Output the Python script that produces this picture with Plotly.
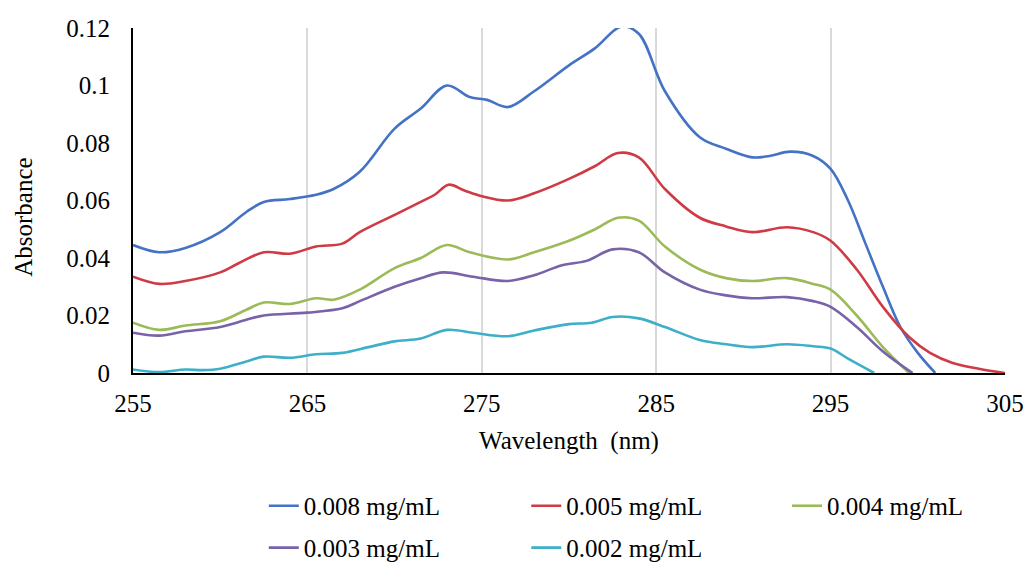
import plotly.graph_objects as go

# ---- data ----
wl_008 = [255, 256.5, 258, 260, 261.5, 262.5, 264, 265.5, 266.5, 268, 270, 271.5, 273, 274.3, 275.3, 276.5, 278, 280, 281.5, 283, 284, 285.5, 287.5, 289, 290.5, 291.5, 292.7, 294, 295, 296, 297, 298, 299, 300, 301]
ab_008 = [0.0445, 0.042, 0.0435, 0.049, 0.056, 0.0595, 0.0605, 0.062, 0.064, 0.070, 0.085, 0.092, 0.100, 0.096, 0.095, 0.0925, 0.098, 0.107, 0.113, 0.1205, 0.118, 0.098, 0.082, 0.078, 0.075, 0.0755, 0.077, 0.0755, 0.071, 0.060, 0.045, 0.030, 0.016, 0.007, 0.0]

wl_005 = [255, 256.5, 258, 260, 261, 262.5, 264, 265.5, 267, 268, 270, 271.5, 272.3, 273.1, 274, 275, 276.5, 278, 280, 281.5, 282.8, 284, 285.5, 287.5, 289, 290.5, 292.5, 294, 295, 296.5, 298, 299.5, 300.7, 302, 303.5, 305]
ab_005 = [0.0335, 0.031, 0.032, 0.035, 0.038, 0.042, 0.0415, 0.044, 0.045, 0.049, 0.055, 0.0595, 0.062, 0.0655, 0.0635, 0.0615, 0.060, 0.0625, 0.0675, 0.072, 0.0765, 0.075, 0.064, 0.054, 0.051, 0.049, 0.0507, 0.049, 0.046, 0.036, 0.023, 0.0125, 0.007, 0.0035, 0.0015, 0.0]

wl_004 = [255, 256.5, 258, 260, 261.5, 262.5, 264, 265.5, 266.5, 268, 270, 271.5, 273, 274.3, 276.5, 278, 280, 281.5, 282.8, 284, 285.5, 287.5, 289, 290.5, 292.5, 294, 295, 296.5, 298, 299.5]
ab_004 = [0.0175, 0.015, 0.0165, 0.018, 0.022, 0.0245, 0.024, 0.026, 0.0255, 0.029, 0.0365, 0.040, 0.0445, 0.042, 0.0395, 0.042, 0.046, 0.050, 0.054, 0.053, 0.044, 0.036, 0.033, 0.032, 0.033, 0.031, 0.029, 0.020, 0.009, 0.0]

wl_003 = [255, 256.5, 258, 260, 261.5, 262.5, 265, 267, 268, 270, 271.5, 272.8, 274.5, 276.5, 278, 279.6, 281, 282.5, 284, 285.5, 287.5, 289, 290.5, 292.5, 294, 295, 296.5, 298, 299.7]
ab_003 = [0.014, 0.013, 0.0145, 0.016, 0.0185, 0.020, 0.021, 0.0225, 0.025, 0.030, 0.033, 0.035, 0.0335, 0.032, 0.034, 0.0375, 0.039, 0.043, 0.042, 0.035, 0.029, 0.027, 0.026, 0.0264, 0.025, 0.023, 0.016, 0.0075, 0.0]

wl_002 = [255, 256.5, 258, 259, 260, 261.5, 262.5, 264, 265.5, 267, 268.5, 270, 271.5, 273, 274.5, 276.5, 278, 280, 281.3, 282.5, 284, 285.5, 287.5, 289, 290.5, 292.5, 294, 295, 296, 297.5]
ab_002 = [0.0012, 0.0003, 0.0012, 0.001, 0.0015, 0.004, 0.0057, 0.0053, 0.0065, 0.007, 0.009, 0.011, 0.012, 0.015, 0.014, 0.0128, 0.0148, 0.017, 0.0175, 0.0195, 0.019, 0.016, 0.0115, 0.010, 0.009, 0.010, 0.0093, 0.0085, 0.005, 0.0]

series_names = ["0.008 mg/mL", "0.005 mg/mL", "0.004 mg/mL", "0.003 mg/mL", "0.002 mg/mL"]
x_ticks = [255, 265, 275, 285, 295, 305]
y_ticks = [0, 0.02, 0.04, 0.06, 0.08, 0.1, 0.12]
y_ticktext = ["0", "0.02", "0.04", "0.06", "0.08", "0.1", "0.12"]

# ---- styles ----
colors = ["#4472C4", "#CF3A44", "#9BBB59", "#7862A8", "#3DAFC8"]
FONT = "Liberation Serif"
FS = 25

# legend slot positions (paper coords): two rows, three columns
leg_ids = ["legend", "legend2", "legend3", "legend4", "legend5"]
leg_x = [0.150, 0.451, 0.750, 0.150, 0.451]
leg_y = [-0.3855, -0.3855, -0.3855, -0.507, -0.507]

fig = go.Figure()
data = [(wl_008, ab_008), (wl_005, ab_005), (wl_004, ab_004), (wl_003, ab_003), (wl_002, ab_002)]
for (xs, ys), name, col, lg in zip(data, series_names, colors, leg_ids):
    fig.add_trace(go.Scatter(
        x=xs, y=ys, name=name, mode="lines",
        line=dict(color=col, width=2.6, shape="spline", smoothing=1.0),
        legend=lg,
    ))

legend_cfg = {}
for lg, lx, ly in zip(leg_ids, leg_x, leg_y):
    legend_cfg[lg] = dict(orientation="h", x=lx, xanchor="left", y=ly, yanchor="middle",
                          itemwidth=30, font=dict(family=FONT, size=FS),
                          bgcolor="rgba(0,0,0,0)")

fig.update_layout(
    width=1027, height=563,
    margin=dict(l=133, r=22, t=28, b=190, autoexpand=False),
    paper_bgcolor="white", plot_bgcolor="white",
    font=dict(family=FONT, size=FS, color="#000000"),
    showlegend=True,
    annotations=[dict(text="Absorbance", xref="paper", yref="paper",
                      x=-0.125, y=0.45, textangle=-90, showarrow=False,
                      xanchor="center", yanchor="middle",
                      font=dict(family=FONT, size=FS))],
    **legend_cfg,
)

fig.update_xaxes(
    range=[255, 305], tickvals=x_ticks, ticktext=[str(v) for v in x_ticks],
    showgrid=True, gridcolor="#D9D9D9", gridwidth=1.5,
    showline=True, linecolor="#000000", linewidth=2.2,
    ticks="", ticklabelstandoff=7, zeroline=False,
    tickfont=dict(family=FONT, size=FS),
    title=dict(text="Wavelength  (nm)", standoff=15, font=dict(family=FONT, size=FS)),
)
fig.update_yaxes(
    range=[0, 0.12], tickvals=y_ticks, ticktext=y_ticktext,
    showgrid=False, showline=True, linecolor="#000000", linewidth=2.2,
    ticks="", ticklabelstandoff=16, zeroline=False,
    tickfont=dict(family=FONT, size=FS),
)

fig.write_html("out.html")
